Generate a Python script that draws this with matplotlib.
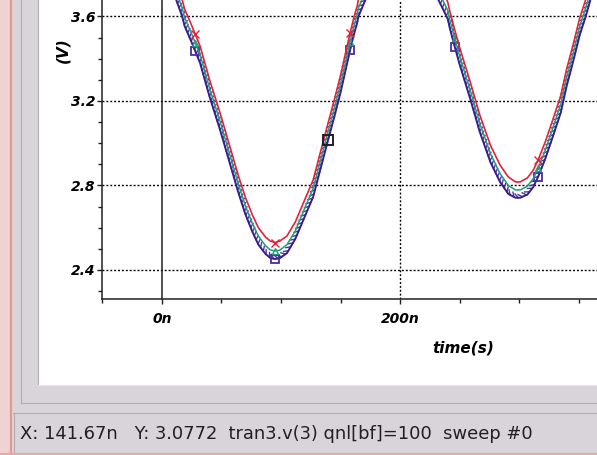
import matplotlib
matplotlib.use('Agg')
import matplotlib.pyplot as plt
from matplotlib import patheffects as pe
from matplotlib.patches import Rectangle
from matplotlib.lines import Line2D
from matplotlib.ticker import MultipleLocator, FuncFormatter

# time axis in ns, voltages in V
t_ns = [0, 8, 17, 19, 24, 28, 32, 40, 49, 57, 64, 70, 76, 81, 87, 91, 95, 99,
        105, 112, 119, 127, 133, 140, 145, 150, 154, 158, 161, 164, 165, 180,
        200, 220, 240, 242, 246, 250, 259, 267, 276, 284, 291, 297, 301, 307,
        312, 316, 322, 328, 335, 340, 346, 351, 356, 362, 370]
v_red = [3.95, 3.82, 3.678, 3.635, 3.57, 3.515, 3.46, 3.30, 3.14, 2.985, 2.85,
         2.745, 2.66, 2.60, 2.556, 2.537, 2.530, 2.537, 2.561, 2.627, 2.72,
         2.826, 2.955, 3.105, 3.21, 3.32, 3.42, 3.52, 3.59, 3.65, 3.68, 3.88,
         3.97, 3.90, 3.67, 3.621, 3.536, 3.455, 3.29, 3.134, 2.99, 2.897, 2.84,
         2.817, 2.817, 2.836, 2.873, 2.921, 3.006, 3.105, 3.224, 3.351, 3.479,
         3.593, 3.68, 3.80, 3.92]
v_green = [3.91, 3.78, 3.64, 3.595, 3.53, 3.475, 3.42, 3.26, 3.10, 2.945, 2.81,
           2.705, 2.62, 2.56, 2.515, 2.495, 2.49, 2.494, 2.52, 2.585, 2.68,
           2.786, 2.915, 3.065, 3.17, 3.28, 3.38, 3.48, 3.55, 3.61, 3.64, 3.84,
           3.93, 3.86, 3.63, 3.581, 3.496, 3.415, 3.25, 3.094, 2.95, 2.857, 2.80,
           2.779, 2.779, 2.797, 2.833, 2.881, 2.966, 3.065, 3.184, 3.311, 3.439,
           3.553, 3.64, 3.76, 3.88]
v_purple = [3.87, 3.74, 3.60, 3.555, 3.49, 3.435, 3.38, 3.22, 3.06, 2.905, 2.77,
            2.665, 2.58, 2.52, 2.476, 2.457, 2.452, 2.456, 2.48, 2.547, 2.64,
            2.746, 2.875, 3.025, 3.13, 3.24, 3.34, 3.44, 3.51, 3.57, 3.60, 3.80,
            3.89, 3.82, 3.59, 3.541, 3.456, 3.375, 3.21, 3.054, 2.91, 2.817, 2.76,
            2.742, 2.742, 2.757, 2.793, 2.841, 2.926, 3.025, 3.144, 3.271, 3.399,
            3.513, 3.60, 3.72, 3.84]
red_marks = [5, 16, 27, 47]
green_marks = [5, 16, 27, 36, 47]
purple_marks = [5, 16, 27, 36, 47]
cursor_t = [139.5]
cursor_v = [3.015]
xticks = [0, 200]
yticks = [2.4, 2.8, 3.2, 3.6]
status = "X: 141.67n   Y: 3.0772  tran3.v(3) qnl[bf]=100  sweep #0"

W, H = 597, 455
plt.rcParams['font.family'] = ['Liberation Sans Narrow', 'DejaVu Sans']
plt.rcParams['font.weight'] = 'bold'
plt.rcParams['font.style'] = 'italic'

fig = plt.figure(figsize=(W / 100, H / 100), dpi=100)
fig.patch.set_facecolor('#d9d4d9')


def fx(x):
    return x / W


def fy(y):
    return 1 - y / H


def frame_rect(x0, y0, x1, y1, color):
    fig.add_artist(Rectangle((fx(x0), fy(y1)), fx(x1) - fx(x0), fy(y0) - fy(y1),
                             transform=fig.transFigure, color=color, lw=0, zorder=-5))


def frame_line(x0, y0, x1, y1, color, lw=0.8):
    fig.add_artist(Line2D([fx(x0), fx(x1)], [fy(y0), fy(y1)], transform=fig.transFigure,
                          color=color, lw=lw, zorder=-4))


# window chrome
frame_rect(0, 0, 13, H, '#efd2d2')
frame_line(11, 0, 11, H, '#d89a9a', 1.6)
frame_rect(38, 0, W, 385, 'white')
frame_line(37.5, 0, 37.5, 385, '#b4acb4')
frame_line(37.5, 385, W, 385, '#e8e4e8')
frame_line(20.5, 0, 20.5, 403, '#b4acb4')
frame_line(20.5, 403, W, 403, '#b4acb4')
frame_line(13, 413, W, 413, '#b4acb4')
frame_line(13.5, 413, 13.5, 452, '#b4acb4')
frame_line(0, 453.5, W, 453.5, '#e6a8a8', 1.6)

ax = fig.add_axes([fx(102), fy(299), fx(W) - fx(102), fy(0) - fy(299)])
ax.set_facecolor('white')
ax.set_xlim(-50.4, 365.5)
ax.set_ylim(2.2627, 3.678)
for s in ['top', 'right']:
    ax.spines[s].set_visible(False)
for s in ['left', 'bottom']:
    ax.spines[s].set_linewidth(1.1)
    ax.spines[s].set_color('#202020')

ax.set_xticks(xticks)
ax.xaxis.set_minor_locator(MultipleLocator(50))
ax.set_yticks(yticks)
ax.yaxis.set_minor_locator(MultipleLocator(0.1))
ax.xaxis.set_major_formatter(FuncFormatter(lambda v, p: '%dn' % v))
ax.yaxis.set_major_formatter(FuncFormatter(lambda v, p: '%.1f' % v))
ax.tick_params(which='major', length=3.6, width=1, color='#202020', labelsize=10)
ax.tick_params(which='minor', length=2.8, width=1, color='#202020')
ax.tick_params(axis='x', pad=6)
ax.tick_params(axis='y', pad=1)

for yv in yticks:
    ax.axhline(yv, color='black', lw=1, dashes=(1.4, 1.4), zorder=1)
ax.axvline(200, color='black', lw=1, dashes=(1.4, 1.4), zorder=1)
ax.axvline(0, color='#202020', lw=1.1, zorder=1)

# the purple sweep trace looks hatched on screen
ax.plot(t_ns, v_purple, color='#3a1c8e', lw=1.4, zorder=3,
        path_effects=[pe.withTickedStroke(spacing=3.2, angle=130, length=1.1,
                                          linewidth=1.0, foreground='#52389c')])
ax.plot(t_ns, v_purple, ls='none', marker='s', ms=6.3, mfc='none', mec='#4a2aa8',
        mew=1.3, markevery=purple_marks, zorder=4)
ax.plot(t_ns, v_green, color='#20a07a', lw=1.1, zorder=5,
        marker='^', ms=5, mfc='none', mec='#20a07a', markevery=green_marks)
ax.plot(t_ns, v_red, color='#e8203c', lw=1.2, zorder=6,
        marker='x', ms=6, mew=1.0, markevery=red_marks)
ax.plot(cursor_t, cursor_v, ls='none', marker='s', ms=7, mfc='none', mec='#202020',
        mew=1.4, zorder=7)

fig.text(fx(63), fy(50), '(V)', rotation=90, ha='center', va='center', fontsize=11)
fig.text(fx(463), fy(348), 'time(s)', ha='center', va='center', fontsize=11)
fig.text(fx(20), fy(439), status, family='DejaVu Sans', weight='normal', style='normal',
         fontsize=12.9, color='#202020', va='baseline')

fig.savefig('out.png', dpi=100, facecolor=fig.get_facecolor())
